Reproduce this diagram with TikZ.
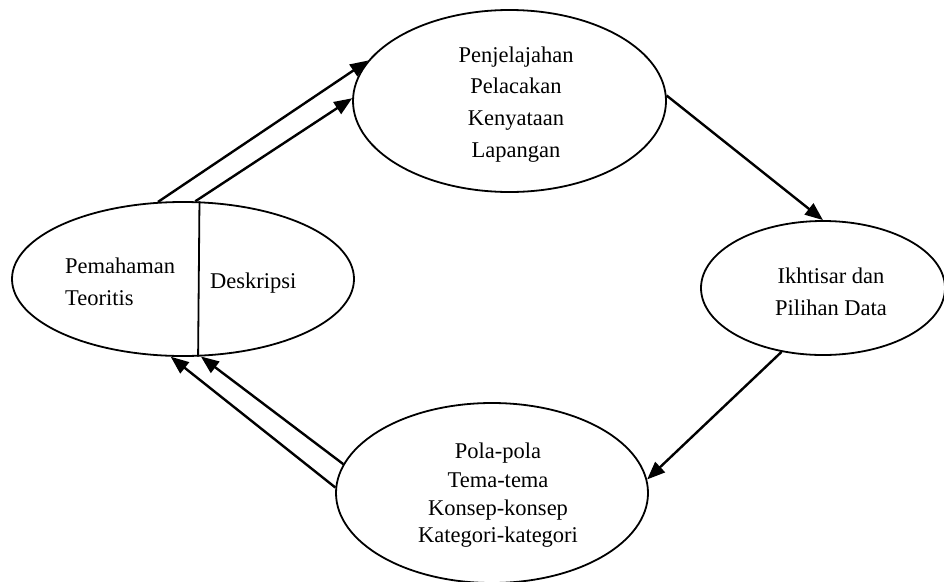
\documentclass[tikz,border=0pt]{standalone}
\usepackage{fontspec}
\setmainfont{Liberation Serif}
\usetikzlibrary{shapes.geometric,arrows.meta}
\begin{document}
\begin{tikzpicture}[x=1pt,y=-1pt,
  ell/.style={draw, ellipse, line width=1.8pt, inner sep=0pt},
  lbl/.style={anchor=base, inner sep=0pt, font=\fontsize{22.5}{28}\selectfont},
  lblw/.style={anchor=base west, inner sep=0pt, font=\fontsize{22.5}{28}\selectfont},
  arr/.style={line width=2.4pt, -{Triangle[length=18pt,width=14pt]}}]
\useasboundingbox (0,0) rectangle (944,581);
% ellipses
\node[ell, minimum width=342pt, minimum height=154pt] (L) at (183,279) {};
\node[ell, minimum width=313pt, minimum height=182pt] (T) at (509.5,101) {};
\node[ell, minimum width=244pt, minimum height=134pt] (R) at (823,288) {};
\node[ell, minimum width=312pt, minimum height=180pt] (B) at (492,493) {};
% divider in left ellipse
\draw[line width=1.8pt] (L.78.3) -- (L.281.7);
% texts
\node[lblw] (l1) at (65,273) {Pemahaman};
\node[lblw] (l2) at (65,305) {Teoritis};
\node[lblw] (l3) at (210,288) {Deskripsi};
\node[lbl] (t1) at (516,62) {Penjelajahan};
\node[lbl] (t2) at (516,93) {Pelacakan};
\node[lbl] (t3) at (516,125) {Kenyataan};
\node[lbl] (t4) at (516,157) {Lapangan};
\node[lbl] (r1) at (831,283) {Ikhtisar dan};
\node[lbl] (r2) at (831,315) {Pilihan Data};
\node[lbl] (b1) at (498,458) {Pola-pola};
\node[lbl] (b2) at (498,487) {Tema-tema};
\node[lbl] (b3) at (498,515) {Konsep-konsep};
\node[lbl] (b4) at (498,542) {Kategori-kategori};
% arrows
\draw[arr] (L.108.9) -- (T.164.5);
\draw[arr] (L.81.1) -- (T.179.3);
\draw[arr] (T.2) -- (R.north);
\draw[arr] (R.237.4) -- (B.5.6);
\draw[arr] (B.178) -- (L.261);
\draw[arr] (B.169.7) -- (L.283.5);
\end{tikzpicture}
\end{document}
